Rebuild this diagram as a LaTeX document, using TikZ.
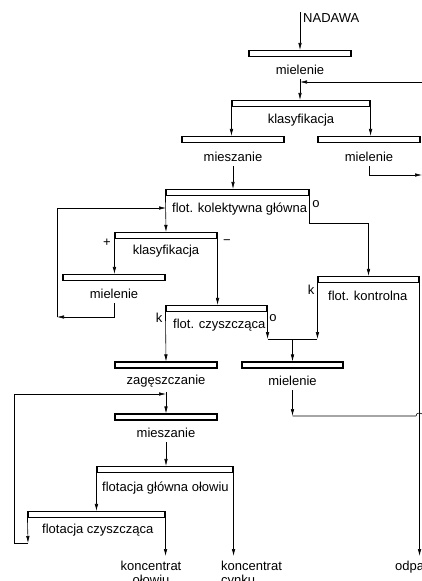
\documentclass[tikz,border=0pt]{standalone}
\usepackage{fontspec}
\setmainfont{Liberation Sans}
\usetikzlibrary{arrows.meta}

\begin{document}
\begin{tikzpicture}[x=1pt,y=-1pt,
	opbox/.style={draw,line width=1.1pt,inner sep=0pt,minimum height=6pt},
	lbl/.style={inner xsep=1pt,inner ysep=5pt,font=\fontsize{13}{14}\selectfont},
	arr/.style={-{Latex[length=7pt,width=3.5pt]},line width=0.6pt},
	ln/.style={line width=0.6pt}]
		\useasboundingbox (0,0) rectangle (422,581);
		\clip (0,0) rectangle (422,581);
		% boxes
		\node[opbox,minimum width=102pt] (mie1) at (300,53.5) {};
		\node[opbox,minimum width=138pt] (kla1) at (301,103.5) {};
		\node[opbox,minimum width=102pt] (mies1) at (233,139.5) {};
		\node[opbox,minimum width=102pt] (mie2) at (369,139.5) {};
		\node[opbox,minimum width=143pt] (fk) at (237.5,192.5) {};
		\node[opbox,minimum width=102pt] (kla2) at (166,235.5) {};
		\node[opbox,minimum width=102pt] (mie3) at (114,277.5) {};
		\node[opbox,minimum width=101pt] (fcz) at (216.5,308.5) {};
		\node[opbox,minimum width=101pt] (fko) at (368.5,279.5) {};
		\node[opbox,minimum width=102pt] (zag) at (166,365) {};
		\node[opbox,minimum width=101pt] (mie4) at (292.5,365) {};
		\node[opbox,minimum width=102pt] (mies2) at (166,417) {};
		\node[opbox,minimum width=136pt] (fgo) at (165,469.5) {};
		\node[opbox,minimum width=137pt] (fcz2) at (96.5,514.5) {};
		% texts
		\node[lbl,anchor=base west] (lnad) at (302,22.5) {NADAWA};
		\node[lbl,anchor=base] (lmie1) at (300,74) {mielenie};
		\node[lbl,anchor=base] (lkla1) at (301,123) {klasyfikacja};
		\node[lbl,anchor=base] (lmies1) at (233,161) {mieszanie};
		\node[lbl,anchor=base] (lmie2) at (369,161) {mielenie};
		\node[lbl,anchor=base west] (lfk) at (171,212) {flot. kolektywna główna};
		\node[lbl,anchor=base] (lkla2) at (166,254) {klasyfikacja};
		\node[lbl,anchor=base] (lmie3) at (114,298) {mielenie};
		\node[lbl,anchor=base west] (lfcz) at (172,328) {flot. czyszcząca};
		\node[lbl,anchor=base west] (lfko) at (327,300) {flot. kontrolna};
		\node[lbl,anchor=base] (lzag) at (166,384) {zagęszczanie};
		\node[lbl,anchor=base] (lmie4) at (292.5,385) {mielenie};
		\node[lbl,anchor=base] (lmies2) at (166,437) {mieszanie};
		\node[lbl,anchor=base west] (lfgo) at (101,491) {flotacja główna ołowiu};
		\node[lbl,anchor=base west] (lfcz2) at (41,533) {flotacja czyszcząca};
		\node[lbl,anchor=north,align=center] (lolo) at (151,556) {koncentrat\\ołowiu};
		\node[lbl,anchor=north west,align=left] (lcyn) at (220,556) {koncentrat\\cynku};
		\node[lbl,anchor=north west] (lodp) at (394,556) {odpady};
		% small marks
		\node[lbl,anchor=base] (ofk) at (316,207) {o};
		\node[lbl,anchor=base] (pkla) at (107,246) {+};
		\node[lbl,anchor=base] (mkla) at (227,244) {−};
		\node[lbl,anchor=base] (kfcz) at (159,322) {k};
		\node[lbl,anchor=base] (ofcz) at (273,321) {o};
		\node[lbl,anchor=base] (kfko) at (311,294) {k};
		% points
		\coordinate (feed) at (300,12);
		\coordinate (fbtop) at (422,82);
		\coordinate (mie2out) at (422,175);
		\coordinate (fb1) at (57,317);
		\coordinate (fkin) at (166,208);
		\coordinate (j1) at (292.5,339);
		\coordinate (mie4out) at (292.5,416);
		\coordinate (fb2) at (28,543);
		\coordinate (zagin) at (166,394);
		% connectors
		\draw[arr] (feed) -- (mie1.north);
		\draw[arr] (lmie1.south) -- (kla1.north -| lmie1.south);
		\draw[arr] (fbtop) -- (lmie1.south |- fbtop);
		\draw[arr] (kla1.south west) -- (mies1.north -| kla1.south west);
		\draw[arr] (kla1.south east) -- (mie2.north -| kla1.south east);
		\draw[arr] (lmies1.south) -- (fk.north -| lmies1.south);
		\draw[arr] (lmie2.south) |- (mie2out);
		\draw[arr] (fk.south west) -- (kla2.north);
		\draw[arr] (fk.south east) -- ++(0,27) -| (fko.north);
		\draw[arr] (kla2.south west) -- (mie3.north -| kla2.south west);
		\draw[arr] (kla2.south east) -- (fcz.north -| kla2.south east);
		\draw[arr] (lmie3.south) |- (fb1);
		\draw[arr] (fb1) |- (fkin);
		\draw[arr] (fcz.south west) -- (zag.north);
		\draw[arr] (fcz.south east) -- (fcz.south east |- j1);
		\draw[arr] (fko.south west) -- (fko.south west |- j1);
		\draw[ln] (fcz.south east |- j1) -- (fko.south west |- j1);
		\draw[arr] (j1) -- (mie4.north);
		\draw[arr] (fko.south east) -- (fko.south east |- lodp.north);
		\draw[arr] (lzag.south) -- (mies2.north);
		\draw[arr] (lmie4.south) -- (mie4out);
		\draw[ln] (mie4out) -- (416,416) .. controls (416,412) and (422,412) .. (424,416);
		\draw[arr] (lmies2.south) -- (fgo.north -| lmies2.south);
		\draw[arr] (fgo.south west) -- (fcz2.north -| fgo.south west);
		\draw[arr] (fgo.south east) -- (fgo.south east |- lcyn.north);
		\draw[arr] (fcz2.south west) -- (fb2);
		\draw[arr] (fb2) -- (14,543) |- (zagin);
		\draw[arr] (fcz2.south east) -- (fcz2.south east |- lolo.north);
	\end{tikzpicture}
\end{document}
